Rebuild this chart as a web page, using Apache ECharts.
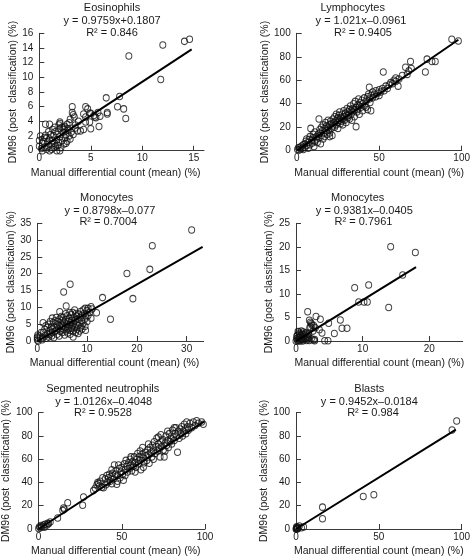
<!DOCTYPE html>
<html><head><meta charset="utf-8">
<script src="https://cdn.jsdelivr.net/npm/echarts@6/dist/echarts.min.js"></script>
<style>html,body{margin:0;padding:0;background:#fff}#c{width:473px;height:558px}</style>
</head><body><div id="c"></div>
<script>
// ---------- Text ----------
const panelTitles = ['Eosinophils','Lymphocytes','Monocytes','Monocytes','Segmented neutrophils','Blasts'];
const equations = ['y = 0.9759x+0.1807','y = 1.021x\u20130.0961','y = 0.8798x\u20130.077','y = 0.9381x\u20130.0405','y = 1.0126x\u20130.4048','y = 0.9452x\u20130.0184'];
const r2Labels = ['R\u00b2 = 0.846','R\u00b2 = 0.9405','R\u00b2 = 0.7004','R\u00b2 = 0.7961','R\u00b2 = 0.9528','R\u00b2 = 0.984'];
const xAxisName = 'Manual differential count (mean) (%)';
const yAxisName = 'DM96 (post  classification) (%)';
// axis extents / ticks
const xMax = [16, 100, 33.4, 25, 100, 100];
const yMax = [16, 100, 35, 25, 100, 100];
const xInterval = [5, 50, 10, 10, 50, 50];
const yInterval = [2, 20, 5, 5, 20, 20];
const xTickValues = [[0,5,10,15],[0,50,100],[0,10,20,30],[0,10,20],[0,50,100],[0,50,100]];

// ---------- Data (x = manual, y = DM96) ----------
const eosinophils = [
[14.6,15.2],[14.1,14.9],[12.0,14.4],[8.7,12.9],[11.8,9.7],[6.5,7.2],[7.8,7.4],[7.6,6.0],[8.2,5.7],[8.4,4.4],
[6.6,5.0],[6.6,5.2],[5.8,3.3],[5.0,3.0],[4.3,2.9],[4.0,2.7],[3.7,2.7],[3.2,6.0],[3.2,5.2],[3.3,4.9],
[3.4,4.6],[4.5,6.0],[4.7,5.7],[4.3,5.0],[4.5,4.6],[5.0,5.1],[5.3,4.8],[5.5,4.5],[5.7,5.2],[4.9,3.9],
[4.5,3.9],[3.0,4.3],[2.9,3.8],[2.7,3.6],[2.5,3.3],[2.4,3.1],[2.0,3.9],[2.0,3.7],[1.9,3.5],[0.6,3.6],
[1.0,3.6],[3.5,3.5],[3.8,4.0],[2.8,3.0],[5.9,4.7],[5.4,4.6],[4.9,5.1],
[0.2,0.3],[0.3,1.0],[0.5,0.5],[0.5,1.8],[0.6,2.1],[0.7,0.2],[0.8,1.2],[0.9,0.6],[1.0,1.6],[1.0,0.0],
[1.1,2.2],[1.2,0.9],[1.3,1.4],[1.4,0.4],[1.4,2.0],[1.5,1.0],[1.6,2.6],[1.7,1.5],[1.8,0.7],[1.8,2.2],
[1.9,1.1],[2.0,1.9],[2.0,3.0],[2.1,0.4],[2.2,1.4],[2.3,2.5],[2.4,0.9],[2.5,1.8],[2.6,2.2],[2.7,1.3],
[2.8,2.8],[2.9,2.0],[3.0,1.6],[3.1,2.5],[0.0,0.6],[0.0,1.4],[0.1,2.0],[0.4,1.3],[0.7,1.7],[1.2,0.2],
[1.6,0.6],[2.0,0.0],[2.2,3.2],[2.4,2.9],[1.5,3.2],[0.3,0.0],[0.9,2.6],[1.3,2.9],[2.6,1.0],[3.3,2.2],
[3.5,3.1],[1.7,0.0]
];
const lymphocytes = [
[0.5,1],[1,2.5],[1.5,0.5],[2,3],[2.5,1.5],[3,4],[3.5,2],[4,5],[4,1],[5,6],[5,3],[5.5,8],[6,4.5],[6,10],
[7,7],[7,2],[7.5,9.5],[8,5],[8,12],[8.5,19],[9,9],[9.5,6.5],[10,11],[10,14],[10.5,3.5],[11,8],[11,16],
[12,12],[12,10],[12.5,7],[13,14],[13.5,27],[13.5,11],[14,15],[14,18],[14.5,6],[15,13],[15,20],[15.5,17],
[16,10],[16,22],[16.5,15],[17,19],[17,12],[17.5,24],[18,17],[18,21],[18.5,14],[19,20],[19,26],[19.5,18],
[20,22],[20,12],[20,15],[20.5,25],[21,19],[21,23],[21.5,13],[22,21],[22,27],[22.5,24],[23,20],[23,29],
[23.5,25],[24,22],[24,31],[24.5,27],[25,24],[25,19],[25,28],[25.5,30],[26,26],[26,33],[26.5,23],[27,28],
[27,25],[27.5,31],[28,27],[28,22],[28.5,34],[29,29],[29,26],[29.5,32],[30,30],[30,24],[30.5,36],[31,28],
[31,33],[31.5,30],[32,35],[32,27],[32.5,38],[33,31],[33,34],[33.5,26],[34,36],[34,33],[34.5,40],[35,35],
[35,29],[35.5,42],[36,37],[36,20.5],[36.5,33],[37,39],[37,35],[37.5,44],[38,38],[38,31],[38.5,41],[39,37],
[39.5,43],[40,40],[40,34],[41,38],[41,45],[42,42],[42,37],[43,46],[43,35],[43.5,48],[44,44],[44,54],
[44.5,41],[45,47],[45,34],[46,45],[46,50],[47,48],[48,46],[48,51],[49,49],[50,52],[50,47],[51,50],[52,53],
[52.5,67],[53,51],[54,55],[55,53],[56,56],[57,58],[58,57],[59,60],[60,59],[60,62],[61.5,55],[62,61],[64,64],
[66,71],[67,65],[68,68],[69,76],[69.5,70],[78,67],[79,78],[82,76],[84,76],[94,95],[98,93.5]
];
const monocytesA = [
[31,33],[23.1,28.3],[22.6,21.3],[18,20.1],[19.2,12.6],[14.7,6.45],[13.1,12.9],[11.9,8.4],[6.6,16.9],[5.3,14.6],
[5.8,10.4],[4.5,8.7],[1.15,5.45],[10.8,10.2],[10.2,9.7],[9.2,9.2],[7.5,9.2],[7.8,8.2],[9.6,9.7],
[0,0.3],[0,1.2],[0.1,1.8],[0,0.8],[0.2,0],
[1,1],[1.2,2.5],[1.5,1.5],[1.5,3.5],[1.8,0.8],[2,2],[2,4],[2.2,5],[2.3,1.2],[2.5,3],[2.6,2],[2.8,4.2],
[2.9,1.5],[3,3.5],[3,2.5],[3.2,5.5],[3.3,1],[3.5,4],[3.5,2.8],[3.6,6],[3.8,3.2],[4,4.8],[4,2],[4.1,5.8],
[4.2,3.6],[4.4,1.5],[4.5,4.4],[4.5,6.5],[4.6,2.9],[4.8,5],[4.9,3.8],[5,6],[5,2.5],[5.1,4.5],[5.2,7],
[5.3,3.4],[5.4,5.5],[5.5,1.8],[5.6,4],[5.7,6.3],[5.8,3],[5.9,5],[6,7.5],[6,4.2],[6.1,2.4],[6.2,5.8],
[6.3,3.6],[6.4,6.8],[6.5,4.8],[6.6,2],[6.7,5.5],[6.8,7.8],[6.9,3.9],[7,6.2],[7,4.5],[7.1,8.5],[7.2,3],
[7.3,5.2],[7.4,7],[7.5,4],[7.6,6],[7.7,2.5],[7.8,5],[7.9,7.4],[8,3.5],[8,6.5],[8.2,4.6],[8.3,8],[8.4,5.6],
[8.5,3],[8.6,7],[8.8,4.2],[8.9,6.2],[9,7.6],[9,3.6],[9.2,5.2],[9.4,8.2],[9.5,6.5],[9.6,4.4],[9.7,3.2],
[9.8,7.2],[10,5.8],[10,9],[10.2,7.6],[10.5,8.5],[10.8,6.8],[11,9.5],[6.5,8.5],[5.7,8.1],[4.8,7.3],[3.8,7],
[7.2,1.2],[8.2,2.2],[3,6.8],[2.6,5.8],[1.7,4.5],[0.8,2.5],[0.5,1.5],[1,0.4],[6.7,3.1],[8.7,8.8]
];
const monocytesB = [
[14.2,20],[17.9,18.8],[16,14],[13.9,7.1],[8.8,11.3],[10.9,11.9],[9.4,8.3],[10.2,8.3],[10.7,8.3],[6.65,4.45],
[6.9,2.7],[7.65,2.7],[5.75,1.6],[4.9,3.75],[4.3,0.05],[4.8,0.05],[1.75,6.2],[3.0,5.2],[3.65,4.6],[2.15,4.0],
[2.3,3.7],[2.4,3.4],[2.65,3.3],[2.9,2.8],[2.05,2.8],[2.55,2.1],[3.9,1.7],[2.8,0.3],[3.5,2.4],[2.0,4.4],[2.2,3.0],
[0,0],[0.1,0.5],[0.2,1.2],[0.3,2],[0.4,0.2],[0.5,0.8],[0.5,1.6],[0.6,0],[0.7,1.1],[0.8,2.1],[0.8,0.4],
[0.9,1.5],[1,0],[1,0.9],[1.1,1.9],[1.2,0.3],[1.3,1.3],[1.4,0.6],[1.5,1.8],[1.6,0.1],[1.7,1],[1.8,0.4],
[1.9,1.5],[2,0.1],[0.2,0.2],[0.3,0.7],[0.6,1.4],[0.9,0.2],[1.2,0.8],[1.4,1.6],[0.4,1.9],[0.1,1.0],
[1.0,1.3],[1.6,0.7],[0.7,0.5],[0.3,0],[1.9,0.8],[2.3,0.5],[2.6,0.2],[2.8,0.05]
];
const neutrophils = [
[0,0.5],[0.5,2],[1,1],[1.5,3],[2,2],[3,3.5],[3.5,1.5],[4,4],[5,3.5],[5.5,5],[6,4.5],[7,6],[11.5,9.5],
[14.5,16],[15,18],[15.5,17],[17.5,22.5],[26.5,20.5],[27,27.5],
[33,33],[34,35],[35,38],[35.5,40],[36,39],[36.5,37],[37,41],[38,36],[39,35.5],[40,43],[40.5,38],[41,46],
[41.5,40],[42,44],[42.5,47],[43,41],[43.5,45],[44,39],[44.5,48],[45,43],[45.5,55],[46,47],[46.5,50],
[47,38.5],[47.5,46],[48,55],[48.5,52],[49,44],[49.5,49],[50,53],[50.5,47],[51,42],[51.5,56],[52,51],
[52.5,59],[53,54],[53.5,49],[54,57],[54.5,52],[55,60],[55.5,55],[56,50],[56.5,58],[57,54],[57.5,62],
[58,57],[58.5,53],[59,60],[59.5,65],[60,56],[60.5,62],[61,59],[61.5,51],[62,64],[62.5,70],[63,61],
[63.5,57],[64,66],[64.5,63],[65,59],[65.5,68],[66,64],[66.5,56.5],[67,70],[67.5,66],[68,62],[68.5,72],
[69,68],[69.5,75],[70,65],[70.5,71],[71,78],[71.5,67],[72,73],[72.5,69],[73,62],[73.5,75],[74,71],
[74.5,77],[75,68],[75.5,62],[76,74],[76.5,80],[77,72],[77.5,76],[78,70],[78.5,82],[79,75],[79.5,78],
[80,73],[80.5,85],[81,79],[81.5,76],[82,82],[82.5,87],[83,80],[83.5,66],[84,84],[84.5,78],[85,86],
[85.5,82],[86,88],[86.5,80],[87,84],[87.5,90],[88,86],[88.5,82],[89,92],[89.5,88],[90,85],[91,91],
[92,87],[93,92],[94,89],[95,93],[96,91],[98,92],[99,90],[77.5,84],[81.5,87],[73.5,81],
[38.5,44],[44,51],[47.5,41],[52,46],[55.5,62],[58,49],[61,67],[63,53],[66,73],[69,60],[72,79],[76,67]
];
const blasts = [
[97,92.9],[94.2,85.2],[47,29.4],[40.6,28],[16,18.8],[16,8.8],[2,2.5],[3.3,1],[4.6,1.8],[0,0],[0.3,1],
[0.6,0.4],[1,1.5],[0.2,0.2],[0.8,0],[1.2,0.6],[0.4,2],[0.5,0.8]
];
// regression lines as drawn (start, end)
const fitLines = [
[[0,0.18],[14.8,13.8]],
[[0.5,0.5],[98,94.5]],
[[0,-0.08],[33.2,28]],
[[0,-0.04],[18,15.7]],
[[0,0],[99.4,92.3]],
[[0,0],[96.5,85.5]]
];
const datasets = [eosinophils, lymphocytes, monocytesA, monocytesB, neutrophils, blasts];

// ---------- Layout ----------
const grids = [
{left:39.3, top:33.3, width:164.7, height:117.4},
{left:296.7, top:33.3, width:165.3, height:117.4},
{left:37.3, top:223.3, width:166.3, height:117.7},
{left:296, top:223.3, width:166.7, height:117.7},
{left:38.3, top:412.7, width:166.7, height:116.6},
{left:296, top:412.7, width:166.7, height:116.6}
];
const titlePos = [
{x:112, y:[7.5,20.5,33]},
{x:[352.7,361,363], y:[7.5,20.5,33]},
{x:[106.7,110,108.3], y:[198.3,210.7,221.7]},
{x:[357.7,364.3,363.5], y:[198.3,210.7,221.7]},
{x:[102.7,103.7,103], y:[389,401.7,413.3]},
{x:[369.3,369.3,373], y:[389,401.7,413.3]}
];
const FONT = '"Liberation Sans", Arial, sans-serif';
const TXT = '#1a1a1a';
const AX = '#3a3a3a';

const option = {
  animation:false,
  grid: grids.map(g=>Object.assign({containLabel:false}, g)),
  xAxis: grids.map((g,i)=>({
    type:'value', gridIndex:i, min:0, max:xMax[i], interval:xInterval[i],
    name:xAxisName, nameLocation:'middle', nameGap:17,
    nameTextStyle:{fontFamily:FONT, fontSize:10.5, color:TXT, padding: i%2===0 ? [0,12,0,0] : [0,0,0,0]},
    axisLine:{show:true, onZero:false, lineStyle:{color:AX, width:1}},
    axisTick:{show:true, inside:true, length:5, lineStyle:{color:AX}, customValues:xTickValues[i]},
    axisLabel:{fontFamily:FONT, fontSize:10, color:TXT, margin:3, customValues:xTickValues[i],
      formatter:v=> (xTickValues[i].indexOf(v)>=0 ? String(v) : '')},
    splitLine:{show:false}
  })),
  yAxis: grids.map((g,i)=>({
    type:'value', gridIndex:i, min:0, max:yMax[i], interval:yInterval[i],
    name:yAxisName, nameLocation:'middle', nameGap:18, nameRotate:90,
    nameTextStyle:{fontFamily:FONT, fontSize:10.5, color:TXT},
    axisLine:{show:true, onZero:false, lineStyle:{color:AX, width:1}},
    axisTick:{show:true, inside:true, length:5, lineStyle:{color:AX}},
    axisLabel:{fontFamily:FONT, fontSize:10, color:TXT, margin:6},
    splitLine:{show:false}
  })),
  series: [],
  graphic: []
};
datasets.forEach((d,i)=>{
  option.series.push({
    type:'scatter', xAxisIndex:i, yAxisIndex:i, data:d, symbol:'circle', symbolSize:[6,6.5],
    itemStyle:{color:'rgba(255,255,255,0)', borderColor:'#111', borderWidth:1},
    emphasis:{disabled:true}, silent:true
  });
  option.series.push({
    type:'line', xAxisIndex:i, yAxisIndex:i, data:fitLines[i], symbol:'none',
    lineStyle:{color:'#000', width:2}, silent:true, z:3
  });
  const tp = titlePos[i];
  [panelTitles[i], equations[i], r2Labels[i]].forEach((t,k)=>{
    const x = Array.isArray(tp.x) ? tp.x[k] : tp.x;
    option.graphic.push({type:'text', x:x, y:tp.y[k], silent:true,
      style:{text:t, align:'center', verticalAlign:'middle', font:'11px '+FONT, fill:TXT}});
  });
});
const chart = echarts.init(document.getElementById('c'), null, {renderer:'canvas'});
chart.setOption(option);
</script></body></html>
